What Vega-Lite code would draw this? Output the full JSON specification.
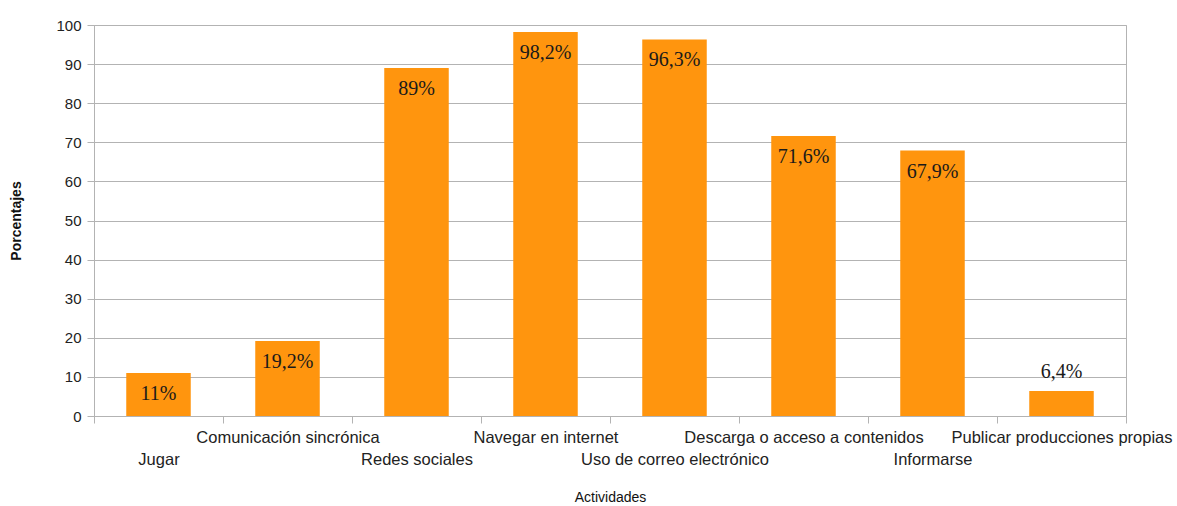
{
  "$schema": "https://vega.github.io/schema/vega-lite/v6.json",
  "width": 1032,
  "height": 391,
  "autosize": {"type": "none"},
  "padding": {"left": 94, "top": 25, "right": 51, "bottom": 90},
  "background": "white",
  "data": {
    "values": [
      {"actividad": "Jugar", "porcentaje": 11, "etiqueta": "11%"},
      {"actividad": "Comunicación sincrónica", "porcentaje": 19.2, "etiqueta": "19,2%"},
      {"actividad": "Redes sociales", "porcentaje": 89, "etiqueta": "89%"},
      {"actividad": "Navegar en internet", "porcentaje": 98.2, "etiqueta": "98,2%"},
      {"actividad": "Uso de correo electrónico", "porcentaje": 96.3, "etiqueta": "96,3%"},
      {"actividad": "Descarga o acceso a contenidos", "porcentaje": 71.6, "etiqueta": "71,6%"},
      {"actividad": "Informarse", "porcentaje": 67.9, "etiqueta": "67,9%"},
      {"actividad": "Publicar producciones propias", "porcentaje": 6.4, "etiqueta": "6,4%"}
    ]
  },
  "config": {
    "view": {"stroke": "#b3b3b3", "strokeWidth": 1},
    "axis": {
      "labelFont": "Liberation Sans",
      "titleFont": "Liberation Sans",
      "labelColor": "#222222",
      "titleColor": "#111111",
      "domainColor": "#b3b3b3",
      "tickColor": "#b3b3b3",
      "gridColor": "#b3b3b3",
      "gridOpacity": 1,
      "tickSize": 7
    }
  },
  "encoding": {
    "x": {
      "field": "actividad",
      "type": "nominal",
      "sort": null,
      "scale": {"paddingInner": 0, "paddingOuter": 0},
      "axis": {
        "title": "Actividades",
        "titleFontSize": 14,
        "titleFontWeight": "normal",
        "titlePadding": 23,
        "labelAngle": 0,
        "labelFontSize": 16.5,
        "labelBaseline": "top",
        "labelLineHeight": 22,
        "labelPadding": 6,
        "labelOverlap": false,
        "labelBound": false,
        "labelFlush": false,
        "labelLimit": 0,
        "tickBand": "extent",
        "grid": false,
        "labelExpr": "indexof(['Jugar','Redes sociales','Uso de correo electrónico','Informarse'], datum.label) >= 0 ? ['', datum.label] : datum.label"
      }
    },
    "y": {
      "field": "porcentaje",
      "type": "quantitative",
      "scale": {"domain": [0, 100], "nice": false},
      "axis": {
        "title": "Porcentajes",
        "titleFontSize": 14,
        "titleFontWeight": "bold",
        "titlePadding": 32,
        "values": [0, 10, 20, 30, 40, 50, 60, 70, 80, 90, 100],
        "tickCount": 12,
        "labelOverlap": false,
        "labelFontSize": 15,
        "labelPadding": 6,
        "grid": true
      }
    }
  },
  "layer": [
    {
      "mark": {"type": "bar", "color": "#ff950e", "width": {"band": 0.5}}
    },
    {
      "transform": [{"filter": "datum.porcentaje > 10"}],
      "mark": {"type": "text", "font": "Liberation Serif", "fontSize": 20, "baseline": "alphabetic", "dy": 27, "color": "#1a1a1a"},
      "encoding": {
        "text": {"field": "etiqueta"}
      }
    },
    {
      "transform": [{"filter": "datum.porcentaje <= 10"}],
      "mark": {"type": "text", "font": "Liberation Serif", "fontSize": 20, "baseline": "alphabetic", "dy": -13, "color": "#1a1a1a"},
      "encoding": {
        "text": {"field": "etiqueta"}
      }
    }
  ]
}
